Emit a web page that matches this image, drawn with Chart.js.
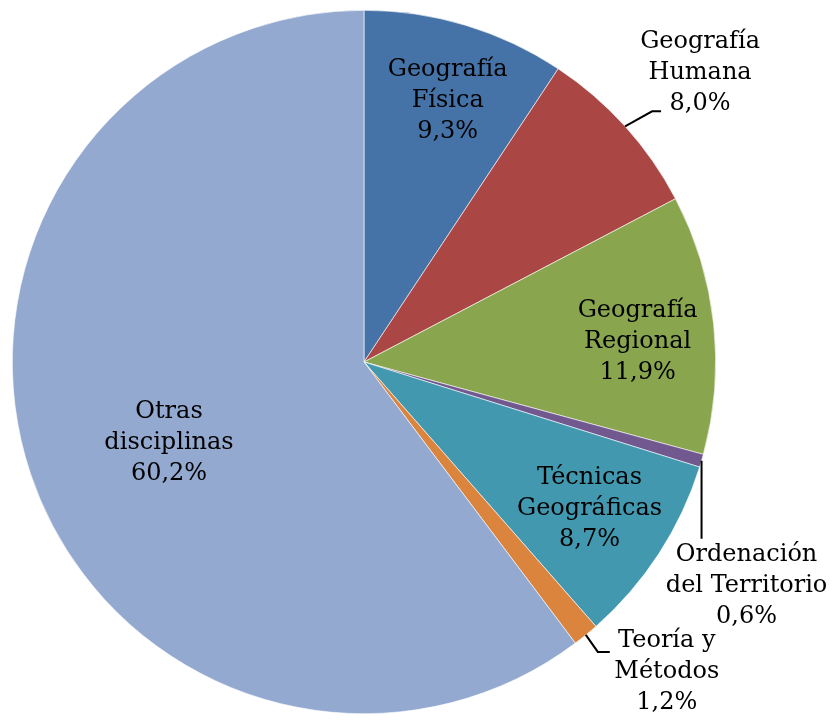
<!DOCTYPE html>
<html>
<head>
<meta charset="utf-8">
<script src="https://cdn.jsdelivr.net/npm/chart.js@4"></script>
<style>
  html, body { margin: 0; padding: 0; background: #fff; }
  #wrap { width: 834px; height: 721px; position: relative; }
</style>
</head>
<body>
<div id="wrap"><canvas id="pie"></canvas></div>
<script>
const categories = [
  ['Geografía', 'Física'],
  ['Geografía', 'Humana'],
  ['Geografía', 'Regional'],
  ['Ordenación', 'del Territorio'],
  ['Técnicas', 'Geográficas'],
  ['Teoría y', 'Métodos'],
  ['Otras', 'disciplinas']
];
const shares = [9.3, 8.0, 11.9, 0.6, 8.7, 1.2, 60.2];
const colors = ['#4572A7', '#AA4643', '#89A54E', '#71588F', '#4198AF', '#DB843D', '#93A9CF'];

// label placement: inside labels sit at a fraction of the radius on the mid angle,
// outside ones hang off a leader line that starts on the rim
const placement = [
  { inside: 0.78, shift: 1 },
  { inside: false, elbow: [27, -15], end: [36, -15], text: [75, -54] },
  { inside: 0.78, shift: 2 },
  { inside: false, elbow: [0, 78], end: [0, 78], text: [45, 125] },
  { inside: 0.765 },
  { inside: false, elbow: [12, 17], end: [24, 17], text: [81, 37] },
  { inside: 0.6, shift: -4 }
];

const FONT = '24px "DejaVu Serif", serif';
const LINE_H = 31;

const labelPlugin = {
  id: 'sliceLabels',
  afterDatasetsDraw(chart) {
    const ctx = chart.ctx;
    const meta = chart.getDatasetMeta(0);
    ctx.save();
    ctx.font = FONT;
    ctx.fillStyle = '#000';
    ctx.strokeStyle = '#000';
    ctx.lineWidth = 2;
    ctx.textAlign = 'center';
    ctx.textBaseline = 'middle';

    meta.data.forEach((arc, i) => {
      const { x, y, startAngle, endAngle, outerRadius } = arc.getProps(['x', 'y', 'startAngle', 'endAngle', 'outerRadius'], true);
      let mid = (startAngle + endAngle) / 2;
      const p = placement[i];
      const lines = [...categories[i], shares[i].toFixed(1).replace('.', ',') + '%'];
      let cx, cy;
      if (p.inside) {
        if (p.shift) mid += p.shift * Math.PI / 180;
        cx = x + Math.cos(mid) * outerRadius * p.inside;
        cy = y + Math.sin(mid) * outerRadius * p.inside;
      } else {
        const ex = x + Math.cos(mid) * outerRadius;
        const ey = y + Math.sin(mid) * outerRadius;
        ctx.beginPath();
        ctx.moveTo(ex, ey);
        ctx.lineTo(ex + p.elbow[0], ey + p.elbow[1]);
        ctx.lineTo(ex + p.end[0], ey + p.end[1]);
        ctx.stroke();
        cx = ex + p.text[0];
        cy = ey + p.text[1];
      }
      lines.forEach((t, k) => {
        ctx.fillText(t, cx, cy + (k - 1) * LINE_H);
      });
    });
    ctx.restore();
  }
};

new Chart(document.getElementById('pie'), {
  type: 'pie',
  data: {
    labels: categories.map(c => c.join(' ')),
    datasets: [{
      data: shares,
      backgroundColor: colors,
      borderColor: '#ffffff',
      borderWidth: 0.6
    }]
  },
  options: {
    responsive: true,
    maintainAspectRatio: false,
    animation: false,
    layout: { padding: { left: 12, right: 118, top: 10, bottom: 7 } },
    plugins: {
      legend: { display: false },
      tooltip: { enabled: false }
    }
  },
  plugins: [labelPlugin]
});
</script>
</body>
</html>
